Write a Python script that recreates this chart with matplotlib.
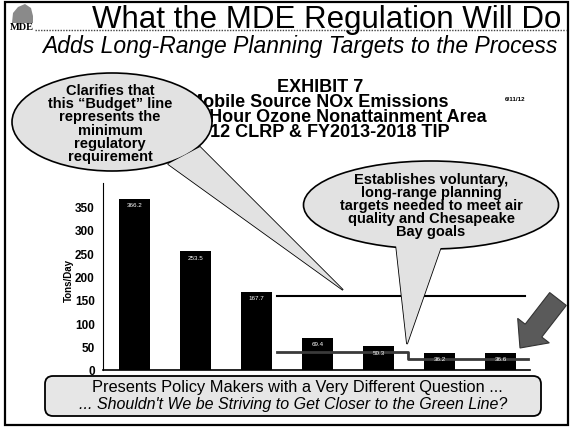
import matplotlib
matplotlib.use('Agg')
import matplotlib.pyplot as plt
from matplotlib.patches import Ellipse, Polygon, FancyBboxPatch, Rectangle, FancyArrow

plt.rcParams['font.family'] = ['Liberation Sans', 'DejaVu Sans']

# bar values (tons/day)
bar_vals = [366.2, 253.5, 167.7, 69.4, 50.3, 36.2, 36.6]
bar_text = ['%.1f' % v for v in bar_vals]
yticks = [0, 50, 100, 150, 200, 250, 300, 350]

# budget line and the (green) target line
budget_x = [2.33, 6.39]
budget_y = [159, 159]
target_x = [2.33, 4.48, 4.48, 6.44]
target_y = [38, 38, 23, 23]

W, H = 573, 431
fig = plt.figure(figsize=(W / 100, H / 100), dpi=100)

# background layer in pixel coords
bg = fig.add_axes([0, 0, 1, 1], zorder=0)
bg.set_xlim(0, W)
bg.set_ylim(H, 0)
bg.axis('off')

bg.add_patch(Rectangle((5, 3), 563, 423, fill=False, lw=1.6, ec='black'))

# logo
bg.add_patch(Polygon([(12, 24), (13, 14), (18, 8), (25, 5), (31, 9), (33, 17), (33, 24)],
                     closed=True, fc='#8a8a8a', ec='none'))
bg.text(22, 27, 'MDE', family='Liberation Serif', fontsize=7.5, fontweight='bold',
        ha='center', va='center')

bg.text(327, 28, 'What the MDE Regulation Will Do', fontsize=22.5, ha='center', va='baseline')
bg.plot([35, 566], [31, 31], ls=(0, (1, 1)), lw=1, color='#444444')
bg.text(300, 47, 'Adds Long-Range Planning Targets to the Process', fontsize=16.5,
        style='italic', ha='center', va='center')

# chart title (partly hidden behind the left callout)
bg.text(363, 87, 'EXHIBIT 7', fontsize=13, fontweight='bold', ha='right', va='center')
bg.text(448, 103, 'Mobile Source NOx Emissions', fontsize=13, fontweight='bold',
        ha='right', va='center')
bg.text(487, 118, '8-Hour Ozone Nonattainment Area', fontsize=13, fontweight='bold',
        ha='right', va='center')
bg.text(450, 133, '2012 CLRP & FY2013-2018 TIP', fontsize=13, fontweight='bold',
        ha='right', va='center')
bg.text(515, 100, '6/11/12', fontsize=4.5, fontweight='bold', ha='center', va='center')

bg.text(69, 281, 'Tons/Day', fontsize=7, fontweight='bold', rotation=90,
        ha='center', va='center')

# chart
ax = fig.add_axes([103 / W, (H - 371) / H, 427 / W, 187 / H], zorder=1)
ax.patch.set_alpha(0)
x = list(range(len(bar_vals)))
ax.bar(x, bar_vals, width=0.5, color='black', zorder=2)
for xi, v, t in zip(x, bar_vals, bar_text):
    ax.text(xi, v - 12, t, color='white', fontsize=4.5, ha='center', va='center', zorder=4)
ax.plot(budget_x, budget_y, color='black', lw=1.5, zorder=3)
ax.plot(target_x, target_y, color='#3a3a3a', lw=2, zorder=3)
ax.set_xlim(-0.52, 6.48)
ax.set_ylim(0, 400)
ax.set_yticks(yticks)
ax.set_yticklabels([str(t) for t in yticks], fontsize=8.5, fontweight='bold')
ax.set_xticks([])
ax.tick_params(axis='y', length=0, pad=6)
for s in ['top', 'right']:
    ax.spines[s].set_visible(False)
ax.spines['left'].set_linewidth(0.8)
ax.spines['bottom'].set_linewidth(1.2)

# foreground layer: callouts, arrow, box
fg = fig.add_axes([0, 0, 1, 1], zorder=2)
fg.set_xlim(0, W)
fg.set_ylim(H, 0)
fg.axis('off')

bub = '#e2e2e2'


def callout(cx, cy, w, h, tail):
    fg.add_patch(Polygon(tail, closed=True, fc=bub, ec='black', lw=1.2, zorder=1))
    fg.add_patch(Ellipse((cx, cy), w, h, fc=bub, ec='black', lw=1.2, zorder=2))
    fg.add_patch(Polygon(tail, closed=True, fc=bub, ec='none', zorder=3))


callout(112, 123, 200, 98, [(168, 165), (200, 148), (343, 291)])
fg.text(110, 124, 'Clarifies that\nthis \u201cBudget\u201d line\nrepresents the\nminimum\nregulatory\nrequirement',
        fontsize=10.5, fontweight='bold', ha='center', va='center', linespacing=0.93, zorder=5)

callout(431, 206, 255, 88, [(396, 246), (442, 245), (407, 345)])
fg.text(431, 206, 'Establishes voluntary,\nlong-range planning\ntargets needed to meet air\nquality and Chesapeake\nBay goals',
        fontsize=10.5, fontweight='bold', ha='center', va='center', linespacing=0.93, zorder=5)

fg.add_patch(FancyArrow(558, 300, -38, 49, width=21, head_width=40, head_length=22,
                        length_includes_head=True, fc='#5a5a5a', ec='#333333', lw=0.8))

fg.add_patch(FancyBboxPatch((45, 377), 496, 40, boxstyle='round,pad=0,rounding_size=8',
                            fc='#e6e6e6', ec='black', lw=1.3))
fg.text(297, 388, 'Presents Policy Makers with a Very Different Question ...', fontsize=11.8,
        ha='center', va='center')
fg.text(293, 405, "... Shouldn't We be Striving to Get Closer to the Green Line?", fontsize=11.5,
        style='italic', ha='center', va='center')

fig.savefig('out.png', dpi=100)
